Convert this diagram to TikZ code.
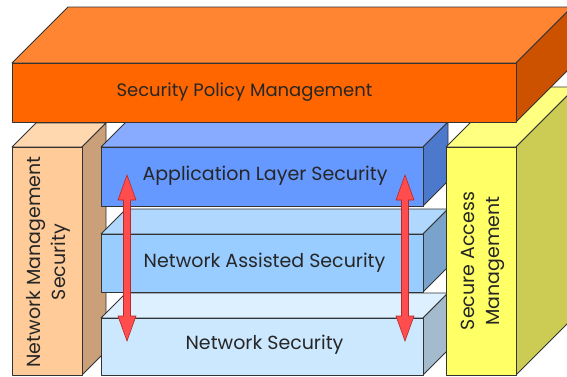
\documentclass[tikz,border=0pt]{standalone}
\usepackage{fontspec}
\setmainfont{Poppins}
\usetikzlibrary{calc}
\definecolor{oF}{HTML}{FF6600}
\definecolor{oT}{HTML}{FF8533}
\definecolor{oS}{HTML}{CC5200}
\definecolor{pF}{HTML}{FFCC99}
\definecolor{pT}{HTML}{FFD8AF}
\definecolor{pS}{HTML}{C9A079}
\definecolor{yF}{HTML}{FFFF66}
\definecolor{yT}{HTML}{FFFF80}
\definecolor{yS}{HTML}{CCCC55}
\definecolor{alF}{HTML}{6699FF}
\definecolor{alT}{HTML}{88AAFF}
\definecolor{alS}{HTML}{4D79CC}
\definecolor{naF}{HTML}{99CCFF}
\definecolor{naT}{HTML}{B0D8FF}
\definecolor{naS}{HTML}{7AA3CC}
\definecolor{nsF}{HTML}{CCE8FF}
\definecolor{nsT}{HTML}{DCF0FF}
\definecolor{nsS}{HTML}{A3BBCC}
\definecolor{arrowred}{HTML}{FF4D4D}
\definecolor{arrowdark}{HTML}{B82828}
\tikzset{
  edge/.style={draw=black!80, line width=0.8pt, line join=round},
  lbl/.style={font=\fontsize{19}{25}\selectfont, text=black!85, inner sep=0pt},
  redarrow/.style={fill=arrowred, draw=arrowdark, line width=0.6pt, line join=miter}
}
\newcommand\cuboid[8]{%
  \path[edge, fill=#7] (#1,#2) -- ++(#5,-#5) -- (#3+#5,#2-#5) -- (#3,#2) -- cycle;
  \path[edge, fill=#8] (#3,#2) -- (#3+#5,#2-#5) -- (#3+#5,#4-#5) -- (#3,#4) -- cycle;
  \path[edge, fill=#6] (#1,#2) rectangle (#3,#4);
}
\begin{document}
\begin{tikzpicture}[x=1pt,y=-1pt]
\useasboundingbox (0,0) rectangle (567,376);
\begin{scope}
\clip (0,0) rectangle (567,376);
\cuboid{12}{147}{82}{375}{24}{pF}{pT}{pS}
\cuboid{101}{318}{423}{375}{25}{nsF}{nsT}{nsS}
\cuboid{101}{234}{423}{292}{25}{naF}{naT}{naS}
\cuboid{101}{147}{423}{206}{25}{alF}{alT}{alS}
\cuboid{446}{147}{516}{375}{60}{yF}{yT}{yS}
\cuboid{12}{63}{516}{122}{56}{oF}{oT}{oS}
\end{scope}
\node[lbl, font=\fontsize{18}{22}\selectfont] (spm) at (244.5,92) {Security Policy Management};
\node[lbl] (als) at (265,176) {Application Layer Security};
\node[lbl] (nas) at (264.5,263) {Network Assisted Security};
\node[lbl] (ns) at (264.5,345) {Network Security};
\node[lbl, rotate=90, align=center] (nms) at (48,262) {Network Management\\Security};
\node[lbl, rotate=90, align=center] (sam) at (483,261) {Secure Access\\Management};
\coordinate (aLtop) at (127,175);
\coordinate (aLbot) at (127,341);
\coordinate (aRtop) at (405,175);
\coordinate (aRbot) at (405,341);
\foreach \t/\b in {aLtop/aLbot, aRtop/aRbot}{
  \draw[redarrow] (\t) -- ++(9,25) -- ++(-5.5,0) -- ($(\b)+(3.5,-25)$) -- ++(5.5,0) -- (\b)
    -- ++(-9,-25) -- ++(5.5,0) -- ($(\t)+(-3.5,25)$) -- ++(-5.5,0) -- cycle;
}
\end{tikzpicture}
\end{document}
